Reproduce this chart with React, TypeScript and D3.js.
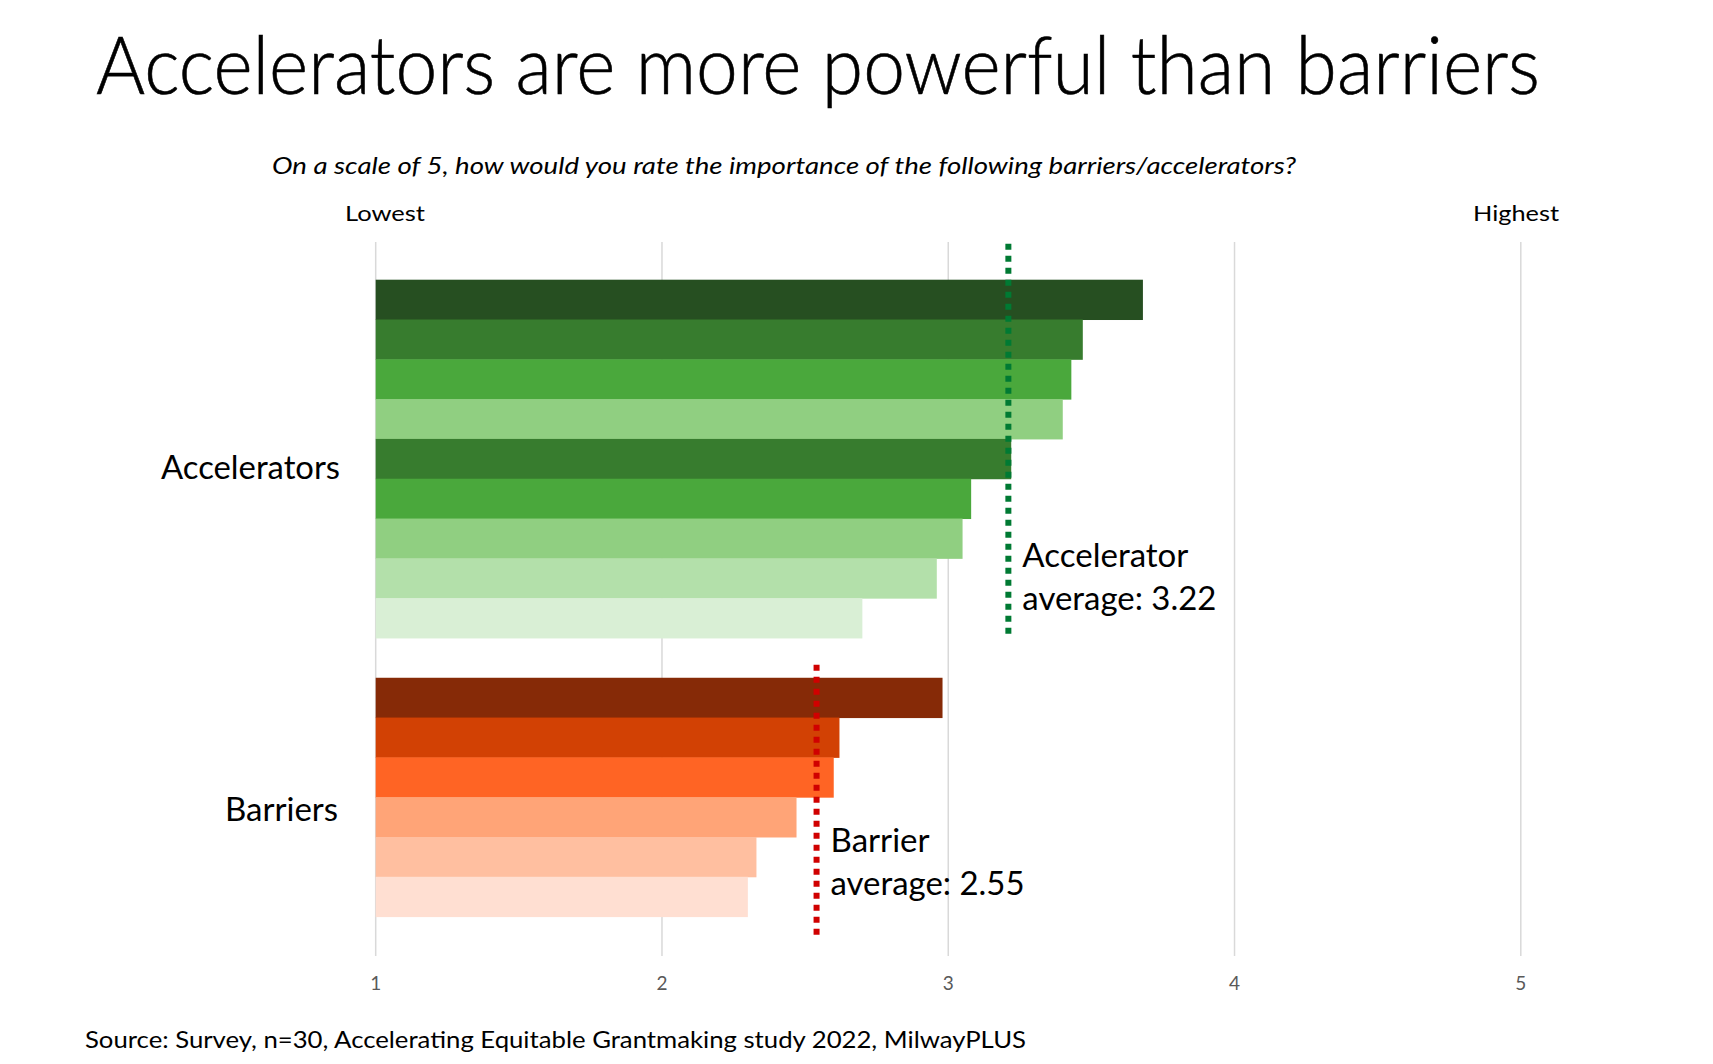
import React from "react";
import * as d3 from "d3";

const W = 1713;
const H = 1064;

const accelValues = [3.68, 3.47, 3.43, 3.4, 3.22, 3.08, 3.05, 2.96, 2.7];
const accelColors = ["#264F21", "#377C2E", "#4AA83C", "#90CF81", "#377C2E", "#4AA83C", "#90CF81", "#B3E0AA", "#D9EFD5"];
const barrierValues = [2.98, 2.62, 2.6, 2.47, 2.33, 2.3];
const barrierColors = ["#862A07", "#D24104", "#FF6424", "#FFA477", "#FFBFA0", "#FFDFD2"];
const xTicks = [1, 2, 3, 4, 5];
const averageLines = [
  { group: "Accelerators", value: 3.21, color: "#007A33", lines: ["Accelerator", "average: 3.22"] },
  { group: "Barriers", value: 2.54, color: "#D00000", lines: ["Barrier", "average: 2.55"] },
];

const FONT = "Lato, 'Open Sans', 'DejaVu Sans', sans-serif";

type Row = { key: string; group: string; value: number; color: string };

const rows: Row[] = [
  ...accelValues.map((v, i) => ({ key: `a${i}`, group: "Accelerators", value: v, color: accelColors[i] })),
  ...barrierValues.map((v, i) => ({ key: `b${i}`, group: "Barriers", value: v, color: barrierColors[i] })),
];
const slots = [...accelValues.map((_, i) => `a${i}`), "gap", ...barrierValues.map((_, i) => `b${i}`)];

export default function App() {
  const x = d3.scaleLinear().domain([1, 5]).range([375.7, 1520.8]);
  const y = d3.scaleBand<string>().domain(slots).range([279.7, 916.6]).paddingInner(0).paddingOuter(0);
  const gridTop = 242;
  const gridBottom = 956;

  const groupExtent = (g: string) => {
    const rs = rows.filter((r) => r.group === g);
    const top = y(rs[0].key)!;
    const bottom = y(rs[rs.length - 1].key)! + y.bandwidth();
    return [top, bottom];
  };

  const [aTop, aBot] = groupExtent("Accelerators");
  const [bTop, bBot] = groupExtent("Barriers");
  const lineExt: Record<string, [number, number]> = {
    Accelerators: [aTop - 36, aBot - 3],
    Barriers: [bTop - 13, bBot + 19],
  };
  const labelPos: Record<string, number[]> = {
    Accelerators: [567, 610],
    Barriers: [852, 895],
  };
  const labelWidths: Record<string, number[]> = {
    Accelerators: [166, 194],
    Barriers: [99, 194],
  };

  return (
    <svg width={W} height={H} style={{ position: "absolute", left: 0, top: 0, background: "#fff" }} fontFamily={FONT}>
      <rect width={W} height={H} fill="#fff" />
      <text x={96} y={94} fontSize={80} fontWeight={300} fill="#000" stroke="#000" strokeWidth={0.6} textLength={1444} lengthAdjust="spacingAndGlyphs">
        Accelerators are more powerful than barriers
      </text>
      <text x={272} y={174} fontSize={24} fontStyle="italic" fill="#000" textLength={1024} lengthAdjust="spacingAndGlyphs">
        On a scale of 5, how would you rate the importance of the following barriers/accelerators?
      </text>
      <text x={345} y={221} fontSize={22} fill="#000" textLength={80} lengthAdjust="spacingAndGlyphs">Lowest</text>
      <text x={1473} y={221} fontSize={22} fill="#000" textLength={86} lengthAdjust="spacingAndGlyphs">Highest</text>

      {xTicks.map((t) => (
        <line key={`g${t}`} x1={x(t)} x2={x(t)} y1={gridTop} y2={gridBottom} stroke="#D9D9D9" strokeWidth={1.5} />
      ))}

      {rows.map((r) => (
        <rect key={r.key} x={x(1)} y={y(r.key)!} width={x(r.value) - x(1)} height={y.bandwidth() + 0.5} fill={r.color} />
      ))}

      {averageLines.map((a) => (
        <g key={a.group}>
          <line
            x1={x(a.value)}
            x2={x(a.value)}
            y1={lineExt[a.group][0]}
            y2={lineExt[a.group][1]}
            stroke={a.color}
            strokeWidth={6}
            strokeDasharray="6 6"
          />
          {a.lines.map((l, i) => (
            <text
              key={i}
              x={x(a.value) + 14}
              y={labelPos[a.group][i]}
              fontSize={33}
              fill="#000"
              textLength={labelWidths[a.group][i]}
              lengthAdjust="spacingAndGlyphs"
            >
              {l}
            </text>
          ))}
        </g>
      ))}

      <text x={161} y={479} fontSize={33} fill="#000" textLength={179} lengthAdjust="spacingAndGlyphs">Accelerators</text>
      <text x={225} y={821} fontSize={33} fill="#000" textLength={113} lengthAdjust="spacingAndGlyphs">Barriers</text>

      {xTicks.map((t) => (
        <text key={`t${t}`} x={x(t)} y={990} fontSize={19} textAnchor="middle" fill="#595959">
          {t}
        </text>
      ))}

      <text x={85} y={1048} fontSize={23} fill="#000" textLength={941} lengthAdjust="spacingAndGlyphs">
        Source: Survey, n=30, Accelerating Equitable Grantmaking study 2022, MilwayPLUS
      </text>
    </svg>
  );
}
